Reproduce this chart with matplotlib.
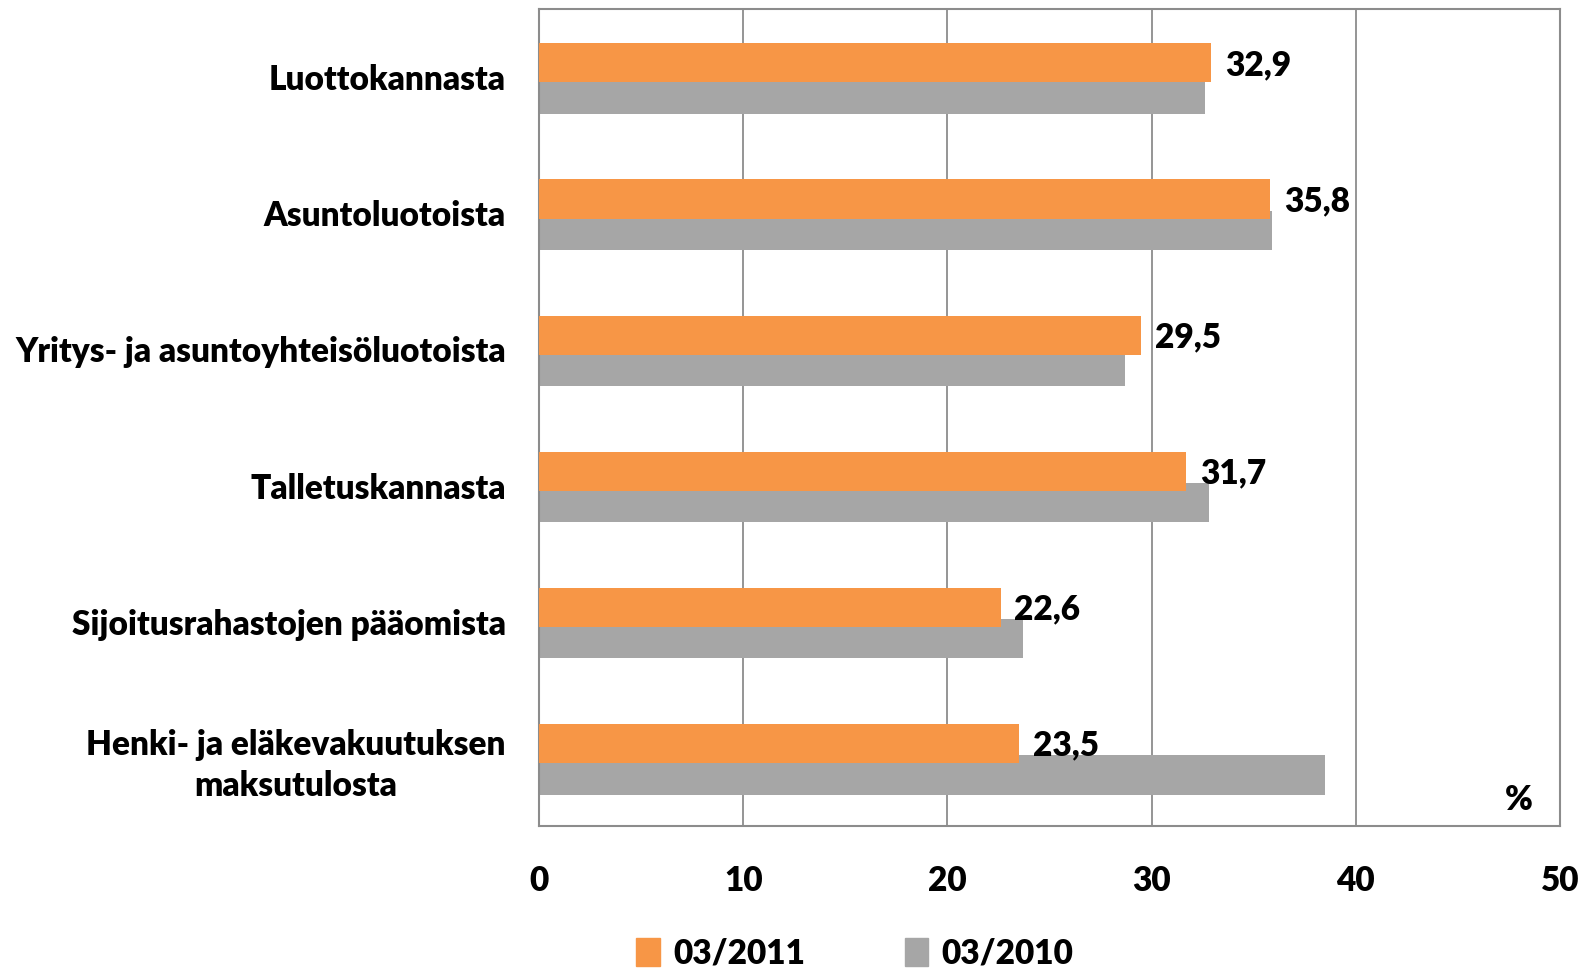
import numpy as np
import matplotlib.pyplot as plt
from matplotlib.patches import Patch

# ── data ─────────────────────────────────────────────
CATEGORIES = [
    "Luottokannasta",
    "Asuntoluotoista",
    "Yritys- ja asuntoyhteisöluotoista",
    "Talletuskannasta",
    "Sijoitusrahastojen pääomista",
    "Henki- ja eläkevakuutuksen\nmaksutulosta",
]
VALUES_2011 = [32.9, 35.8, 29.5, 31.7, 22.6, 23.5]
VALUES_2010 = [32.6, 35.9, 28.7, 32.8, 23.7, 38.5]
LABELS_2011 = ["32,9", "35,8", "29,5", "31,7", "22,6", "23,5"]
SERIES = ["03/2011", "03/2010"]
XTICKS = [0, 10, 20, 30, 40, 50]

ORANGE = "#F79646"
GRAY = "#A6A6A6"
GRID = "#8C8C8C"
FONT = "Lato"
FS = 24
WT = "heavy"

plt.rcParams["font.family"] = [FONT, "DejaVu Sans"]
plt.rcParams["font.weight"] = WT

fig = plt.figure(figsize=(15.92, 9.71), dpi=100)
ax = fig.add_axes([0.3386, 0.1493, 0.6413, 0.8414])

y = np.arange(len(CATEGORIES))
h = 0.287
ax.barh(y + 0.125, VALUES_2010, height=h, color=GRAY, zorder=2)
ax.barh(y - 0.105, VALUES_2011, height=h, color=ORANGE, zorder=3)

for yi, v, lab in zip(y, VALUES_2011, LABELS_2011):
    ax.annotate(lab, (v, yi - 0.09), xytext=(10, 0), textcoords="offset points",
                ha="left", va="center", fontsize=FS, fontweight=WT,
                color="black", zorder=5)

ax.set_xlim(0, 50)
ax.set_ylim(len(CATEGORIES) - 0.5, -0.5)
ax.set_xticks(XTICKS)
ax.set_xticklabels([str(t) for t in XTICKS], fontsize=FS, fontweight=WT)
ax.set_yticks(y)
ax.set_yticklabels(CATEGORIES, fontsize=FS, fontweight=WT,
                   multialignment="center", linespacing=1.35)
ax.tick_params(axis="x", length=0, pad=28)
ax.tick_params(axis="y", length=0, pad=24)

ax.grid(axis="x", color=GRID, linewidth=1.3, zorder=1)
ax.set_axisbelow(True)
for s in ax.spines.values():
    s.set_color(GRID)
    s.set_linewidth(1.5)

ax.text(0.973, 0.012, "%", transform=ax.transAxes, ha="right", va="bottom",
        fontsize=FS, fontweight=WT)

handles = [Patch(color=ORANGE), Patch(color=GRAY)]
fig.legend(handles, SERIES, loc="center", bbox_to_anchor=(0.537, 0.018),
           ncol=2, frameon=False, handlelength=0.7,
           handleheight=0.95, handletextpad=0.4, columnspacing=3.0,
           prop={"family": FONT, "weight": WT, "size": FS})

fig.savefig("out.png", dpi=100, facecolor="white")
